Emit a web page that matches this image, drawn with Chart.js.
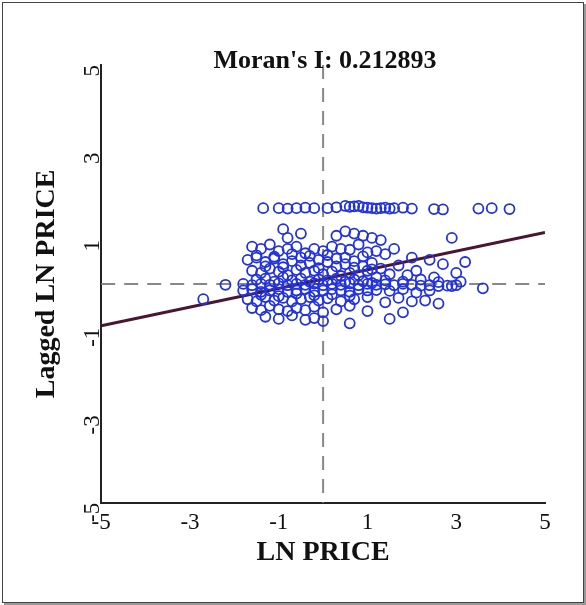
<!DOCTYPE html>
<html><head>
<script src="https://cdn.jsdelivr.net/npm/chart.js@4"></script>
<style>
body{margin:0;background:#fff}
#wrap{position:absolute;left:2px;top:2px;width:580px;height:599px;border:1px solid #444;box-shadow:2px 2px 0 #999}
</style>
</head><body>
<div id="wrap"><canvas id="c" width="580" height="599"></canvas></div>
<script>
// LN PRICE (x) and Lagged LN PRICE (y)
const lnPrice = [
 -1.35,-1.0,-0.8,-0.6,-0.4,-0.2,0.1,0.3,0.5,0.6,0.7,0.8,0.9,1.0,1.1,1.2,1.3,1.4,1.5,1.6,1.8,2.0,2.5,2.7,3.5,3.8,4.2,
 -0.9,-0.8,-0.5,0.3,0.5,0.7,0.9,1.1,1.3,2.9,
 -1.6,-1.4,-1.2,-1.0,-0.8,-0.6,-0.4,-0.2,0.0,0.2,0.4,0.6,0.8,1.0,1.2,1.4,1.6,2.0,2.4,3.2,
 -1.7,-1.5,-1.3,-1.1,-0.9,-0.7,-0.5,-0.3,-0.1,0.1,0.3,0.5,0.7,0.9,1.1,1.3,1.7,2.1,2.7,3.0,
 -1.6,-1.4,-1.2,-1.0,-0.8,-0.6,-0.4,-0.2,0.0,0.2,0.4,0.6,0.8,1.0,1.2,1.5,1.9,2.2,2.5,3.1,
 -1.5,-1.3,-1.1,-0.9,-0.7,-0.5,-0.3,-0.1,0.1,0.3,0.5,0.7,0.9,1.1,1.4,1.8,2.6,
 -2.2,-1.8,-1.6,-1.4,-1.2,-1.0,-0.8,-0.6,-0.4,-0.2,0.0,0.2,0.4,0.6,0.8,1.0,1.2,1.4,1.6,1.8,2.0,2.2,2.4,2.6,2.8,3.0,
 -1.8,-1.6,-1.4,-1.2,-1.0,-0.8,-0.6,-0.4,-0.2,0.0,0.2,0.4,0.6,0.8,1.0,1.2,1.5,1.8,2.1,2.4,2.9,3.6,
 -2.7,-1.7,-1.5,-1.3,-1.1,-0.9,-0.7,-0.5,-0.3,-0.1,0.1,0.4,0.7,1.0,1.4,1.7,2.0,2.3,2.6,
 -1.6,-1.4,-1.2,-1.0,-0.8,-0.6,-0.4,-0.2,0.0,0.3,0.6,1.0,1.8,
 -1.3,-1.0,-0.7,-0.4,-0.2,0.0,0.6,1.5,
 -1.5,-1.1,-0.7,-0.3,0.1,0.5,0.9,-1.3,-0.9,-0.5,-0.1,0.3,0.7,1.1,-1.4,-1.0,-0.6,-0.2,0.2,0.6
];
const laggedLnPrice = [
 1.73,1.73,1.72,1.73,1.74,1.73,1.73,1.75,1.78,1.76,1.77,1.78,1.75,1.74,1.73,1.72,1.73,1.74,1.72,1.73,1.74,1.72,1.71,1.70,1.72,1.73,1.71,
 1.25,1.05,1.15,1.1,1.2,1.15,1.1,1.05,1.0,1.05,
 0.85,0.80,0.90,0.75,0.80,0.85,0.70,0.80,0.75,0.85,0.80,0.78,0.90,0.72,0.75,0.68,0.80,0.60,0.55,0.50,
 0.55,0.60,0.50,0.58,0.45,0.52,0.60,0.48,0.55,0.50,0.58,0.45,0.52,0.40,0.48,0.35,0.42,0.30,0.45,0.25,
 0.30,0.25,0.35,0.28,0.20,0.32,0.25,0.30,0.22,0.28,0.18,0.25,0.20,0.30,0.15,0.22,0.20,0.10,0.15,0.05,
 0.10,0.12,0.05,0.15,0.08,0.12,0.05,0.10,0.08,0.12,0.05,0.10,0.06,0.02,0.08,0.05,0.04,
 -0.02,0.00,-0.03,0.00,-0.02,0.01,-0.03,0.00,-0.02,0.01,-0.03,0.00,-0.02,0.01,-0.03,0.00,-0.02,-0.01,-0.03,0.00,-0.02,-0.04,-0.03,-0.05,-0.04,-0.03,
 -0.15,-0.12,-0.18,-0.15,-0.12,-0.18,-0.15,-0.12,-0.18,-0.15,-0.12,-0.15,-0.18,-0.12,-0.15,-0.14,-0.16,-0.12,-0.20,-0.15,-0.05,-0.10,
 -0.35,-0.35,-0.40,-0.30,-0.38,-0.32,-0.40,-0.35,-0.30,-0.38,-0.33,-0.40,-0.35,-0.30,-0.42,-0.32,-0.40,-0.38,-0.45,
 -0.55,-0.60,-0.50,-0.58,-0.62,-0.55,-0.60,-0.52,-0.65,-0.58,-0.50,-0.62,-0.65,
 -0.75,-0.80,-0.72,-0.82,-0.78,-0.85,-0.90,-0.80,
 0.65,0.62,0.68,0.64,0.66,0.60,0.63,0.40,0.38,0.42,0.36,0.40,0.37,0.33,-0.25,-0.28,-0.22,-0.26,-0.24,-0.27
];
const moransI = 0.212893;
const fitIntercept = 0.11;
const axisTicks = [-5, -3, -1, 1, 3, 5];

const points = lnPrice.map((x, i) => ({x: x, y: laggedLnPrice[i]}));
const fitLine = [-5, 5].map(x => ({x: x, y: fitIntercept + moransI * x}));

const dashedCross = {
  id: 'dashedCross',
  beforeDatasetsDraw(chart) {
    const {ctx, chartArea: a, scales: {x, y}} = chart;
    ctx.save();
    ctx.strokeStyle = '#888';
    ctx.lineWidth = 2;
    ctx.setLineDash([14, 9]);
    ctx.beginPath();
    ctx.moveTo(x.getPixelForValue(0), a.top);
    ctx.lineTo(x.getPixelForValue(0), a.bottom);
    ctx.moveTo(a.left, y.getPixelForValue(0));
    ctx.lineTo(a.right, y.getPixelForValue(0));
    ctx.stroke();
    // title sits over the top of the plot
    ctx.fillStyle = '#111';
    ctx.font = 'bold 26px "Liberation Serif"';
    ctx.textAlign = 'center';
    ctx.textBaseline = 'middle';
    ctx.fillText("Moran's I: " + moransI, 322, 58);
    ctx.restore();
  }
};

const font = {family: 'Liberation Serif', size: 23};
new Chart(document.getElementById('c'), {
  type: 'scatter',
  data: {datasets: [
    {data: points, pointRadius: 5, pointBorderColor: '#2233dd', pointBorderWidth: 1.8,
     backgroundColor: 'rgba(0,0,0,0)', borderColor: '#2233dd'},
    {type: 'line', data: fitLine, borderColor: '#4a1530', borderWidth: 3, pointRadius: 0}
  ]},
  options: {
    responsive: false, animation: false,
    layout: {padding: {top: 62, right: 38, bottom: 32, left: 27}},
    plugins: {legend: {display: false}, title: {display: false}},
    scales: {
      x: {min: -5, max: 5, afterBuildTicks: s => { s.ticks = axisTicks.map(v => ({value: v})); },
          grid: {display: false, drawTicks: true, tickLength: 6, color: '#222'}, border: {color: '#222', width: 2},
          ticks: {color: '#111', font: font, padding: 0},
          title: {display: true, text: 'LN PRICE', color: '#111', font: {family: 'Liberation Serif', size: 28, weight: 'bold'}, padding: 0}},
      y: {min: -5, max: 5, afterBuildTicks: s => { s.ticks = axisTicks.map(v => ({value: v})); },
          grid: {display: false, drawTicks: true, tickLength: 6, color: '#222'}, border: {color: '#222', width: 2},
          ticks: {color: '#111', font: font, padding: 2, minRotation: 90, maxRotation: 90},
          title: {display: true, text: 'Lagged LN PRICE', color: '#111', font: {family: 'Liberation Serif', size: 28, weight: 'bold'}, padding: 0}}
    }
  },
  plugins: [dashedCross]
});
</script>
</body></html>
